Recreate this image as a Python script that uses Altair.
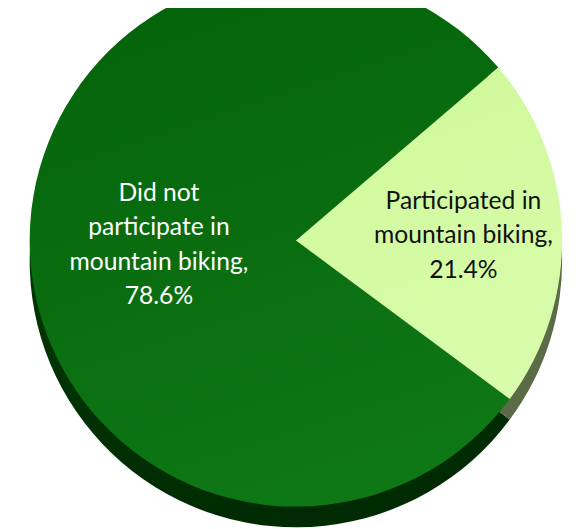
import altair as alt
import pandas as pd
import math

categories = ["Participated in\nmountain biking,\n21.4%", "Did not\nparticipate in\nmountain biking,\n78.6%"]
keys = ["yes", "no"]
values = [21.4, 78.6]
order = [0, 1]

df = pd.DataFrame({"key": keys, "label": categories, "value": values, "order": order})

start = math.radians(49.5)
theta_scale = alt.Scale(range=[start, start + 2 * math.pi])

CX, CY, R = 292, 232, 270
DEPTH = 21


def grad(c1, c2):
    return alt.Gradient(
        gradient="linear",
        stops=[alt.GradientStop(color=c1, offset=0), alt.GradientStop(color=c2, offset=1)],
        x1=0.3, y1=0, x2=0.6, y2=1,
    )


def slice_layer(key, fill, y):
    return alt.Chart(df).mark_arc(x=CX, y=y, outerRadius=R, stroke=None, fill=fill).encode(
        theta=alt.Theta("value:Q", stack=True, scale=theta_scale),
        order=alt.Order("order:Q"),
        opacity=alt.condition(alt.datum.key == key, alt.value(1), alt.value(0)),
    )


side_yes = slice_layer("yes", "#5a6b45", CY + DEPTH)
side_no = slice_layer("no", grad("#013f05", "#002a02"), CY + DEPTH)
top_yes = slice_layer("yes", grad("#cff99a", "#d8fcab"), CY)
top_no = slice_layer("no", grad("#04630a", "#0f7816"), CY)


def label_layer(key, radius, dy, color):
    return alt.Chart(df).mark_text(
        x=CX, y=CY, radius=radius, dy=dy, font="Lato", fontSize=25, lineHeight=35,
        lineBreak="\n", align="center", baseline="middle", color=color,
    ).encode(
        theta=alt.Theta("value:Q", stack=True, scale=theta_scale),
        order=alt.Order("order:Q"),
        text=alt.Text("label:N"),
        opacity=alt.condition(alt.datum.key == key, alt.value(1), alt.value(0)),
    )


text_yes = label_layer("yes", 170, -34, "#111111")
text_no = label_layer("no", 139, -53, "#ffffff")

chart = alt.layer(side_no, side_yes, top_no, top_yes, text_yes, text_no).properties(
    width=570, height=521, autosize=alt.AutoSizeParams(type="none"), padding=0,
).configure_view(stroke=None)

chart.save("out.html", embed_options={"renderer": "svg", "actions": False})
